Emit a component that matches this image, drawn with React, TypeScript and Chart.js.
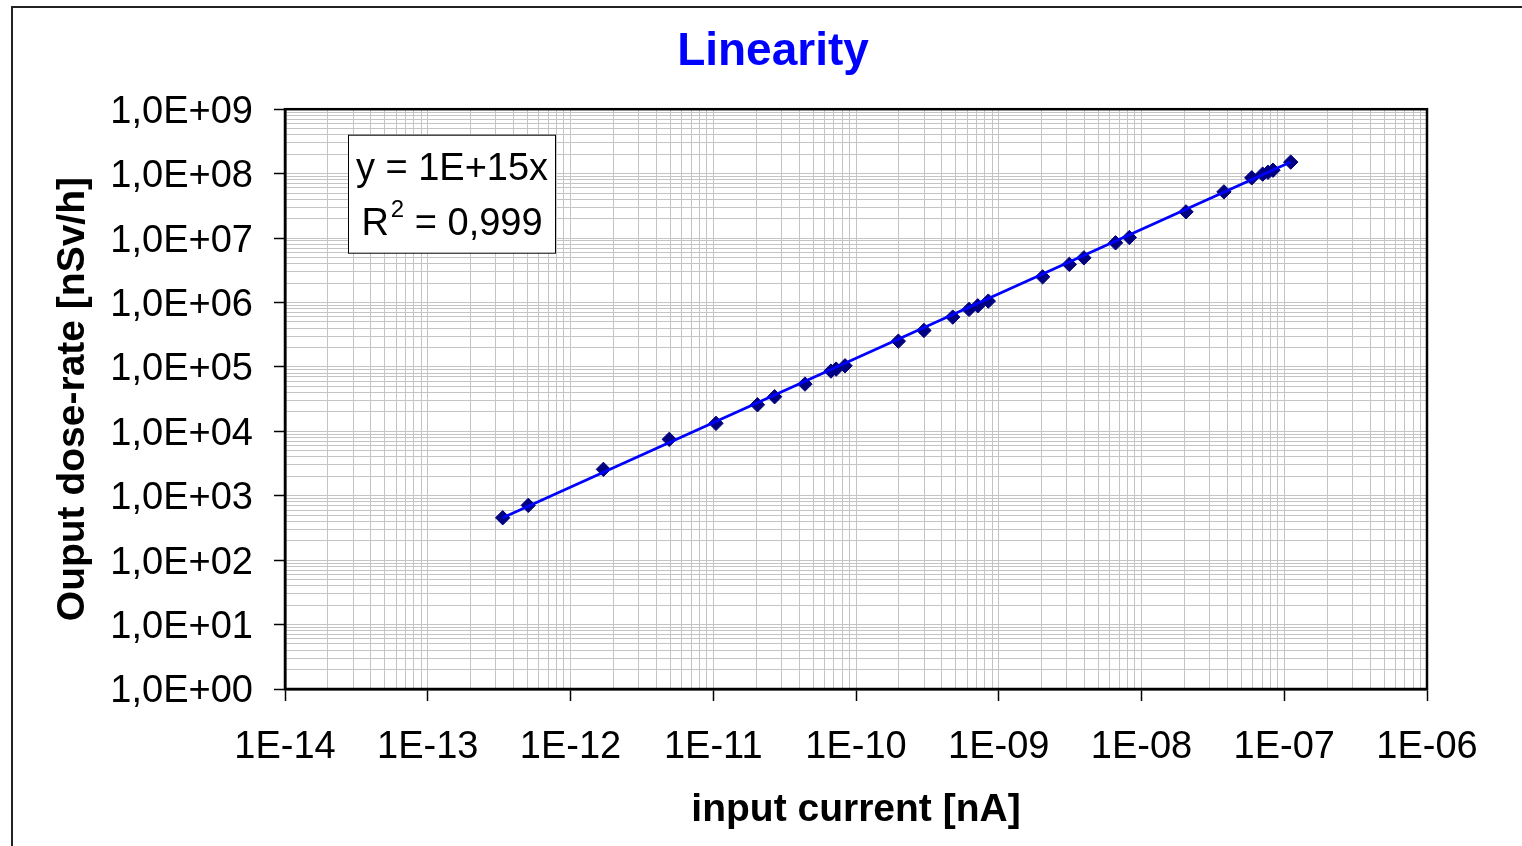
import React, { useEffect, useRef } from 'react';
import { Chart, registerables } from 'chart.js';

Chart.register(...registerables);

// ---- data ----
const currentNA = [
  3.35e-13, 5.06e-13, 1.70e-12, 4.92e-12, 1.045e-11, 2.04e-11, 2.69e-11, 4.39e-11,
  6.68e-11, 7.26e-11, 8.38e-11, 1.98e-10, 2.99e-10, 4.76e-10, 6.19e-10, 7.13e-10,
  8.45e-10, 2.03e-9, 3.12e-9, 3.95e-9, 6.58e-9, 8.22e-9, 2.05e-8, 3.78e-8,
  5.92e-8, 7.06e-8, 7.69e-8, 8.34e-8, 1.11e-7,
];
const doseRate = [
  455, 709, 2566, 7500, 13280, 25800, 34400, 54100,
  86100, 92400, 104000, 251000, 368000, 593000, 780000, 887000,
  1.05e6, 2.5e6, 3.9e6, 4.93e6, 8.43e6, 1.02e7, 2.55e7, 5.21e7,
  8.61e7, 9.82e7, 1.05e8, 1.13e8, 1.51e8,
];
const trendX = [3.35e-13, 1.11e-7];
const trendY = [455, 1.51e8];

const xTickLabels = ['1E-14', '1E-13', '1E-12', '1E-11', '1E-10', '1E-09', '1E-08', '1E-07', '1E-06'];
const yTickLabels = ['1,0E+00', '1,0E+01', '1,0E+02', '1,0E+03', '1,0E+04', '1,0E+05', '1,0E+06', '1,0E+07', '1,0E+08', '1,0E+09'];
const xMinExp = -14;
const xMaxExp = -6;
const yMinExp = 0;
const yMaxExp = 9;

const titleText = 'Linearity';
const xTitle = 'input current [nA]';
const yTitle = 'Ouput dose-rate [nSv/h]';
const eqText = 'y = 1E+15x';
const r2Base = 'R';
const r2Sup = '2';
const r2Rest = ' = 0,999';

const FONT = '"Liberation Sans", Arial, Helvetica, sans-serif';

function logTicks(minExp: number, maxExp: number) {
  const t: { value: number; major: boolean }[] = [];
  for (let e = minExp; e <= maxExp; e++) {
    for (let m = 1; m <= 9; m++) {
      if (e === maxExp && m > 1) break;
      t.push({ value: Number(`${m}e${e}`), major: m === 1 });
    }
  }
  return t;
}

function decadeExp(v: number): number | null {
  const l = Math.log10(v);
  const r = Math.round(l);
  return Math.abs(l - r) < 1e-6 ? r : null;
}

const decor = {
  id: 'decor',
  beforeDraw(chart: any) {
    const ctx = chart.ctx;
    ctx.save();
    ctx.strokeStyle = '#222';
    ctx.lineWidth = 2;
    ctx.strokeRect(12, 7, 1600, 900);
    ctx.restore();
  },
  afterDraw(chart: any) {
    const ctx = chart.ctx;
    const { left, top, right, bottom } = chart.chartArea;
    ctx.save();
    ctx.strokeStyle = '#000';
    ctx.lineWidth = 2.5;
    ctx.strokeRect(left, top, right - left, bottom - top);

    // trendline label box
    const bx = left + 63.5;
    const by = top + 26;
    const bw = 207;
    const bh = 118;
    ctx.fillStyle = '#fff';
    ctx.fillRect(bx, by, bw, bh);
    ctx.strokeStyle = '#000';
    ctx.lineWidth = 1;
    ctx.strokeRect(bx, by, bw, bh);

    const cx = bx + bw / 2;
    ctx.fillStyle = '#000';
    ctx.textBaseline = 'alphabetic';
    ctx.textAlign = 'center';
    ctx.font = `38px ${FONT}`;
    ctx.fillText(eqText, cx, by + 45);

    ctx.textAlign = 'left';
    const wR = ctx.measureText(r2Base).width;
    const wRest = ctx.measureText(r2Rest).width;
    ctx.font = `24px ${FONT}`;
    const wSup = ctx.measureText(r2Sup).width;
    const total = wR + 2 + wSup + wRest;
    let x = cx - total / 2;
    ctx.font = `38px ${FONT}`;
    ctx.fillText(r2Base, x, by + 100);
    x += wR + 2;
    ctx.font = `24px ${FONT}`;
    ctx.fillText(r2Sup, x, by + 82);
    x += wSup;
    ctx.font = `38px ${FONT}`;
    ctx.fillText(r2Rest, x, by + 100);
    ctx.restore();
  },
};

export default function App() {
  const ref = useRef<HTMLCanvasElement | null>(null);

  useEffect(() => {
    document.body.style.margin = '0';
    const canvas = ref.current;
    if (!canvas) return;
    Chart.defaults.color = '#000';
    Chart.defaults.font.family = FONT;

    const tickColor = (c: any) =>
      c.tick && decadeExp(c.tick.value) !== null ? '#000' : 'rgba(0,0,0,0)';

    const chart = new Chart(canvas, {
      type: 'scatter',
      data: {
        datasets: [
          {
            label: 'trend',
            data: trendX.map((x, i) => ({ x, y: trendY[i] })),
            showLine: true,
            borderColor: '#0000FF',
            borderWidth: 2.8,
            pointRadius: 0,
            fill: false,
          },
          {
            label: 'measured',
            data: currentNA.map((x, i) => ({ x, y: doseRate[i] })),
            showLine: false,
            pointStyle: 'rectRot',
            pointRadius: 7.2,
            backgroundColor: '#000080',
            borderColor: '#000080',
            borderWidth: 1,
          },
        ],
      },
      options: {
        animation: false,
        responsive: false,
        layout: { padding: { left: 24, right: 0, top: 0, bottom: 0 } },
        plugins: {
          legend: { display: false },
          tooltip: { enabled: false },
          title: {
            display: true,
            text: titleText,
            color: '#0000FF',
            font: { size: 46, weight: 'bold', family: FONT },
            padding: { top: 25, bottom: 29 },
          },
        },
        scales: {
          x: {
            type: 'logarithmic',
            position: 'bottom',
            min: Number(`1e${xMinExp}`),
            max: Number(`1e${xMaxExp}`),
            afterBuildTicks: (s: any) => {
              s.ticks = logTicks(xMinExp, xMaxExp);
            },
            afterFit: (s: any) => {
              s.height = 157;
            },
            grid: { color: '#c4c4c4', lineWidth: 1, tickLength: 12, tickColor, tickWidth: 1.5 },
            border: { display: true, color: '#000', width: 2.5 },
            ticks: {
              autoSkip: false,
              maxRotation: 0,
              minRotation: 0,
              padding: 24,
              font: { size: 38, family: FONT },
              callback: (v: any) => {
                const e = decadeExp(Number(v));
                return e === null ? '' : xTickLabels[e - xMinExp];
              },
            },
            title: {
              display: true,
              text: xTitle,
              font: { size: 39, weight: 'bold', family: FONT },
              padding: { top: 0, bottom: 12 },
            },
          },
          y: {
            type: 'logarithmic',
            position: 'left',
            min: Number(`1e${yMinExp}`),
            max: Number(`1e${yMaxExp}`),
            afterBuildTicks: (s: any) => {
              s.ticks = logTicks(yMinExp, yMaxExp);
            },
            afterFit: (s: any) => {
              s.width = 261;
            },
            grid: { color: '#c4c4c4', lineWidth: 1, tickLength: 11, tickColor, tickWidth: 1.5 },
            border: { display: true, color: '#000', width: 2.5 },
            ticks: {
              autoSkip: false,
              padding: 21,
              labelOffset: 3,
              font: { size: 38, family: FONT },
              callback: (v: any) => {
                const e = decadeExp(Number(v));
                return e === null ? '' : yTickLabels[e - yMinExp];
              },
            },
            title: {
              display: true,
              text: yTitle,
              font: { size: 39, weight: 'bold', family: FONT },
              padding: { top: 26, bottom: 0 },
            },
          },
          spacer: {
            type: 'linear',
            position: 'right',
            display: true,
            grid: { display: false, drawTicks: false },
            border: { display: false },
            ticks: { display: false },
            afterFit: (s: any) => {
              s.width = 95;
            },
          },
        },
      } as any,
      plugins: [decor],
    });
    return () => chart.destroy();
  }, []);

  return (
    <canvas
      ref={ref}
      width={1522}
      height={846}
      style={{ display: 'block', width: '1522px', height: '846px' }}
    />
  );
}
